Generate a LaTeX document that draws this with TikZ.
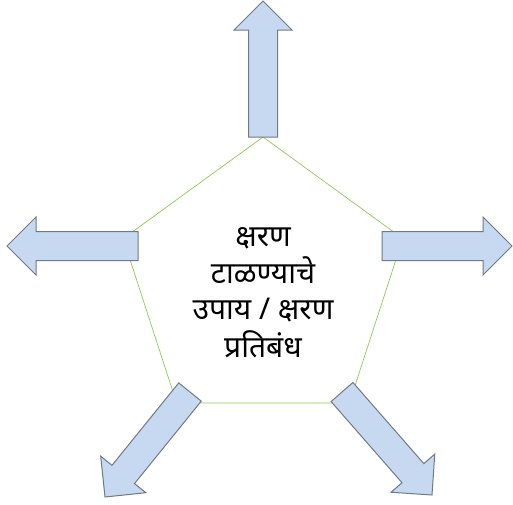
\documentclass[tikz,border=0pt]{standalone}
\usepackage{fontspec}
\newfontfamily\devfont[Script=Devanagari]{Noto Sans}
\usepackage{tikz}
\usetikzlibrary{calc,shapes.geometric}
\definecolor{arrowFill}{RGB}{198,217,240}
\definecolor{arrowLine}{RGB}{112,122,134}
\definecolor{edgeGreen}{RGB}{140,204,80}
\tikzset{
    pentaBox/.style={
        draw=edgeGreen,
        line width=0.7pt,
        regular polygon,
        regular polygon sides=5,
        minimum size=294pt,
        inner sep=0pt,
        fill=white,
        font=\devfont\fontsize{30}{36}\selectfont
    },
    outArrow/.style={
        draw=arrowLine,
        fill=arrowFill,
        line width=1pt,
        line join=miter
    }
}
% block arrow from base #1 to tip #2
\newcommand{\outArrowShape}[2]{%
    \coordinate (headBase) at ($(#2)!29pt!(#1)$);
    \draw[outArrow] ($(#1)!14.5pt!90:(#2)$) -- ($(headBase)!14.5pt!90:(#2)$)
        -- ($(headBase)!29pt!90:(#2)$) -- (#2)
        -- ($(headBase)!29pt!-90:(#2)$) -- ($(headBase)!14.5pt!-90:(#2)$)
        -- ($(#1)!14.5pt!-90:(#2)$) -- cycle;
}
\begin{document}
\begin{tikzpicture}[x=1pt,y=-1pt]
    \useasboundingbox (0,0) rectangle (513,504);

    \node[pentaBox] (core) at (263,284) {\raisebox{-17pt}[0pt][0pt]{\begin{tabular}{@{}c@{}}
        क्षरण\\
        टाळण्याचे\\
        उपाय / क्षरण\\
        प्रतिबंध
    \end{tabular}}};

    \coordinate (upBase) at (263,137);
    \coordinate (upTip) at (263,1);
    \coordinate (leftBase) at (138,246);
    \coordinate (leftTip) at (7,246);
    \coordinate (rightBase) at (382,246);
    \coordinate (rightTip) at (512,246);
    \coordinate (lowLeftBase) at (190,392);
    \coordinate (lowLeftTip) at (105,497);
    \coordinate (lowRightBase) at (342,392);
    \coordinate (lowRightTip) at (432,495);

    \outArrowShape{upBase}{upTip}
    \outArrowShape{leftBase}{leftTip}
    \outArrowShape{rightBase}{rightTip}
    \outArrowShape{lowLeftBase}{lowLeftTip}
    \outArrowShape{lowRightBase}{lowRightTip}
\end{tikzpicture}
\end{document}
